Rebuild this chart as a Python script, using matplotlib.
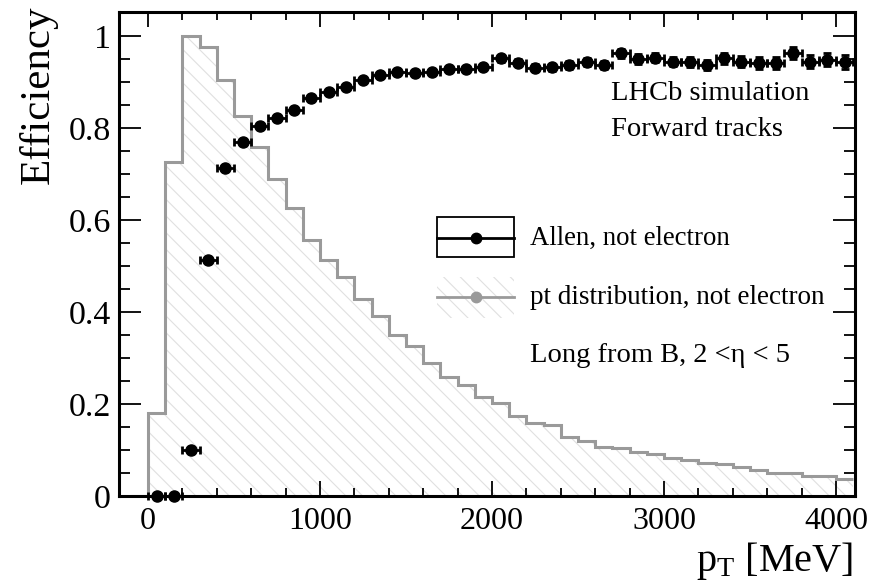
import matplotlib
matplotlib.use("Agg")
import matplotlib.pyplot as plt
import numpy as np
from matplotlib.patches import Rectangle
from matplotlib.lines import Line2D

plt.rcParams['font.family'] = ['Liberation Serif', 'DejaVu Serif']
plt.rcParams['mathtext.fontset'] = 'custom'
plt.rcParams['mathtext.rm'] = 'Liberation Serif'
plt.rcParams['mathtext.it'] = 'Liberation Serif:italic'
plt.rcParams['hatch.linewidth'] = 0.8

# ---- data ----
bin_edges_start = -100
bin_width = 100
pt_hist = [0.0, 0.18, 0.726, 1.0, 0.975, 0.904, 0.826, 0.759, 0.690, 0.626, 0.557,
           0.514, 0.477, 0.428, 0.392, 0.349, 0.325, 0.288, 0.258, 0.242, 0.216,
           0.203, 0.174, 0.159, 0.154, 0.128, 0.120, 0.107, 0.104, 0.096, 0.091,
           0.083, 0.078, 0.072, 0.070, 0.062, 0.057, 0.050, 0.049, 0.044, 0.043, 0.038]

eff_x = [50, 150, 250, 350, 450, 550, 650, 750, 850, 950, 1050, 1150, 1250, 1350,
         1450, 1550, 1650, 1750, 1850, 1950, 2050, 2150, 2250, 2350, 2450, 2550,
         2650, 2750, 2850, 2950, 3050, 3150, 3250, 3350, 3450, 3550, 3650, 3750,
         3850, 3950, 4050]
eff_y = [0.0, 0.0, 0.100, 0.513, 0.712, 0.770, 0.804, 0.821, 0.839, 0.866, 0.879,
         0.888, 0.904, 0.915, 0.922, 0.920, 0.921, 0.928, 0.928, 0.932, 0.951,
         0.942, 0.931, 0.932, 0.937, 0.943, 0.937, 0.962, 0.950, 0.953, 0.944,
         0.944, 0.937, 0.951, 0.944, 0.942, 0.941, 0.962, 0.944, 0.948, 0.944]
eff_yerr = [0.001, 0.001, 0.004, 0.005, 0.005, 0.005, 0.005, 0.005, 0.005, 0.005,
            0.005, 0.005, 0.005, 0.005, 0.006, 0.006, 0.006, 0.007, 0.007, 0.007,
            0.007, 0.008, 0.008, 0.008, 0.009, 0.009, 0.009, 0.009, 0.010, 0.010,
            0.010, 0.011, 0.011, 0.012, 0.012, 0.013, 0.013, 0.013, 0.014, 0.014, 0.015]
eff_xerr = 50

W, H = 870, 585
fig = plt.figure(figsize=(W/100, H/100), dpi=100)
L, R, T, B = 119, 855, 12, 496
ax = fig.add_axes([L/W, 1-B/H, (R-L)/W, (B-T)/H])

edges = bin_edges_start + bin_width*np.arange(len(pt_hist)+1)
vals = np.array(pt_hist)
xs = np.repeat(edges, 2)[1:-1]
ys = np.repeat(vals, 2)
hatch_col = '#e0e0e0'
ax.fill_between(xs, 0, ys, facecolor='none', edgecolor=hatch_col, hatch='\\\\', linewidth=0, zorder=1)
ax.stairs(vals, edges, color='#9a9a9a', linewidth=2.2, baseline=None, zorder=2)

ax.errorbar(eff_x, eff_y, xerr=eff_xerr, yerr=eff_yerr, fmt='o', color='black',
            markersize=8, elinewidth=2, capsize=3, capthick=2, zorder=5, clip_on=False)

ax.set_xlim(-169, 4110)
ax.set_ylim(0, 1.052)

ax.set_xticks([0, 1000, 2000, 3000, 4000])
ax.set_xticks(np.arange(200, 4100, 200), minor=True)
ax.set_yticks([0, 0.2, 0.4, 0.6, 0.8, 1.0])
ax.set_yticklabels(['0', '0.2', '0.4', '0.6', '0.8', '1'])
ax.set_yticks(np.arange(0, 1.051, 0.05), minor=True)

ax.tick_params(which='both', direction='in', top=True, right=True, width=1.3, labelsize=23)
ax.tick_params(axis='y', which='major', labelsize=24.5)
ax.tick_params(axis='x', which='major', length=11, pad=8)
ax.tick_params(axis='x', which='minor', length=5.5)
ax.tick_params(axis='y', which='major', length=16, pad=6)
ax.tick_params(axis='y', which='minor', length=8)
for s in ax.spines.values():
    s.set_linewidth(2.2)

# axis titles
fig.text(38/W, 1-5/H, 'Efficiency', rotation=90, ha='center', va='top', fontsize=31)
fig.text(853/W, 1-582/H, r'p$_{\mathrm{T}}$ [MeV]', ha='right', va='bottom', fontsize=29)

# legend (manual)
tr = ax.transAxes
def fx(px): return (px-L)/(R-L)
def fy(py): return (B-py)/(B-T)
ax.add_patch(Rectangle((fx(437), fy(257)), fx(514)-fx(437), fy(217)-fy(257), transform=tr,
                       facecolor='white', edgecolor='black', linewidth=1.3, zorder=6))
ax.add_line(Line2D([fx(437), fx(514)], [fy(238), fy(238)], transform=tr, color='black', lw=2, zorder=7))
ax.add_line(Line2D([fx(476)], [fy(238)], transform=tr, color='black', marker='o', markersize=7.5, zorder=8))
ax.add_patch(Rectangle((fx(437), fy(318)), fx(514)-fx(437), fy(277)-fy(318), transform=tr,
                       facecolor='white', edgecolor=hatch_col, hatch='\\\\', linewidth=0, zorder=6))
ax.add_line(Line2D([fx(437), fx(514)], [fy(297), fy(297)], transform=tr, color='#9a9a9a', lw=2, zorder=7))
ax.add_line(Line2D([fx(476)], [fy(297)], transform=tr, color='#9a9a9a', marker='o', markersize=7.5, zorder=8))
ax.text(fx(530), fy(238), 'Allen, not electron', transform=tr, ha='left', va='center', fontsize=19.3, zorder=9)
ax.text(fx(530), fy(297), 'pt distribution, not electron', transform=tr, ha='left', va='center', fontsize=19.5, zorder=9)

ax.text(fx(611), fy(93), 'LHCb simulation', transform=tr, ha='left', va='center', fontsize=20.5)
ax.text(fx(611), fy(130), 'Forward tracks', transform=tr, ha='left', va='center', fontsize=20.5)
ax.text(fx(530), fy(356), 'Long from B, 2 <η < 5', transform=tr, ha='left', va='center', fontsize=20.5)

fig.savefig('out.png', dpi=100)
